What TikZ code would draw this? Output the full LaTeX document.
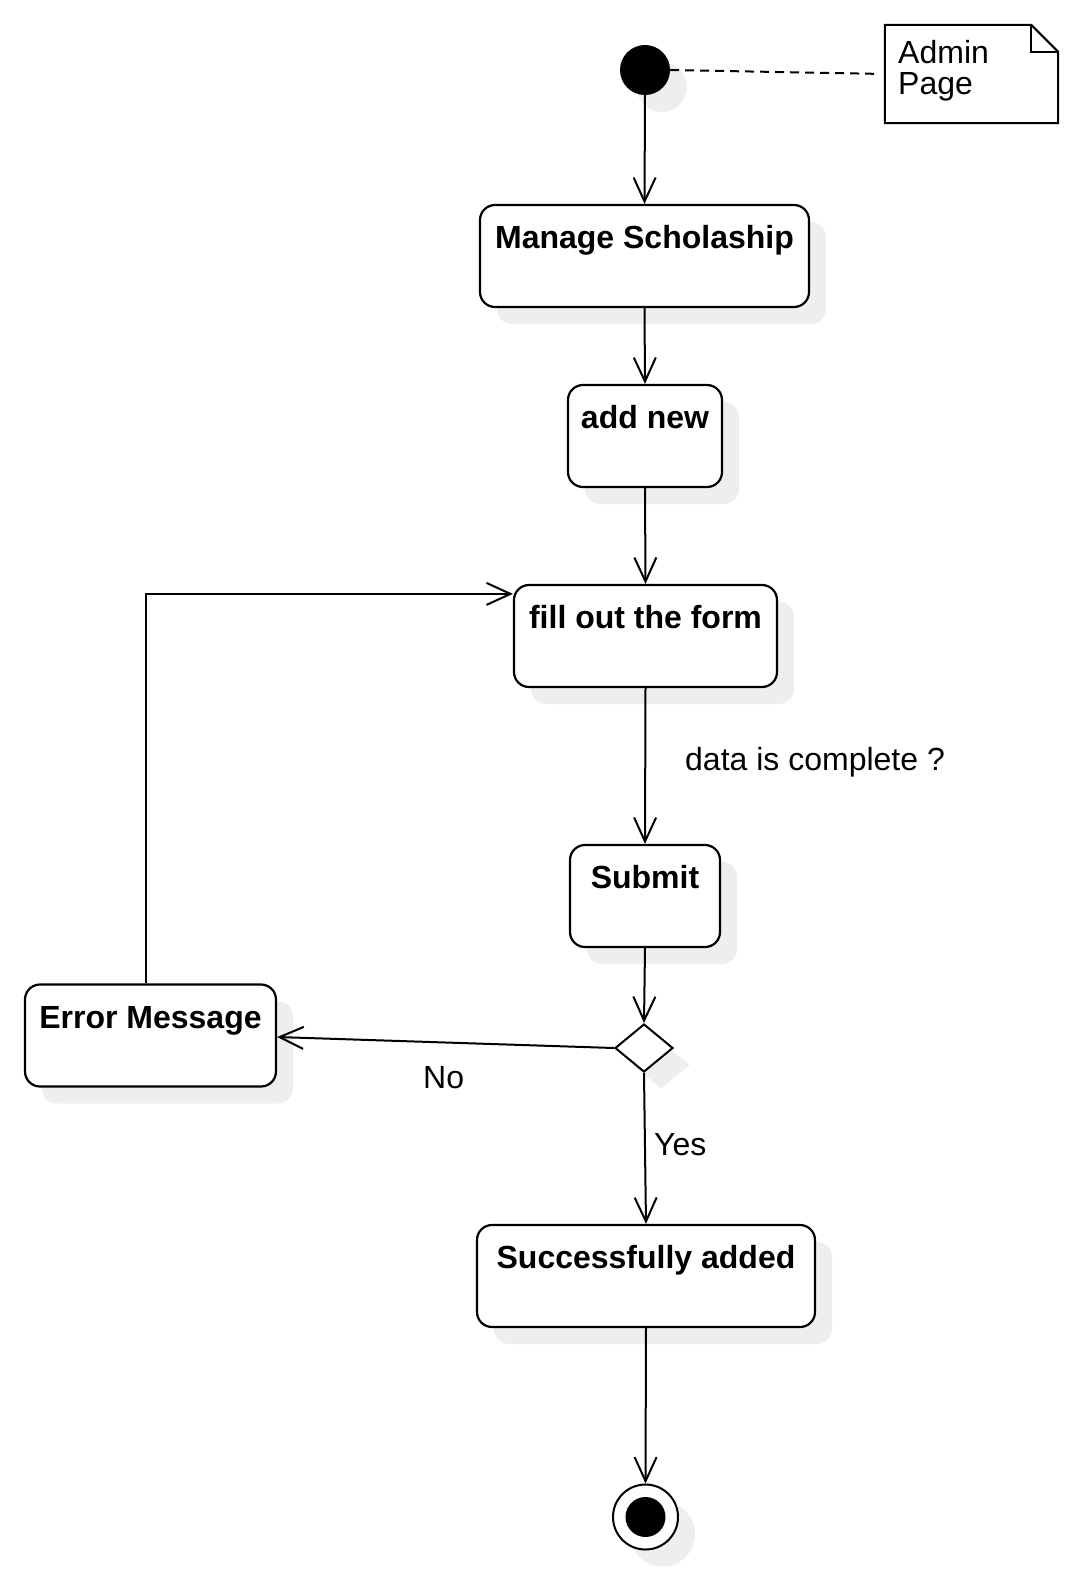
\documentclass[tikz,border=0pt]{standalone}
\usepackage{fontspec}
\setmainfont{Liberation Sans}
\usetikzlibrary{arrows.meta,shapes.geometric,calc}
\definecolor{shd}{HTML}{EEEEEE}
\begin{document}
\begin{tikzpicture}[x=1pt,y=-1pt,
  shadowed/.style={preaction={fill=shd, transform canvas={shift={(17pt,-17pt)}}}},
  act/.style={draw, line width=2.2pt, rounded corners=15pt, fill=white, shadowed, inner sep=0pt, minimum height=102pt},
  lbl/.style={font=\fontsize{32}{32}\selectfont\bfseries, anchor=base, inner sep=0pt},
  txt/.style={font=\fontsize{32}{32}\selectfont, inner sep=0pt},
  edge/.style={line width=2pt, -{Straight Barb[length=24pt,width=22pt,line width=2pt]}},
]
\useasboundingbox (0,0) rectangle (1085,1575);

% initial node
\node[circle, fill=black, minimum size=50pt, inner sep=0pt, shadowed] (init) at (645,70) {};
% note
\node[minimum width=173pt, minimum height=98pt, inner sep=0pt] (note) at (971.5,74) {};
\draw[line width=2pt, fill=white] (note.north west) -- ($(note.north east)+(-27,0)$) -- ($(note.north east)+(0,27)$) -- (note.south east) -- (note.south west) -- cycle;
\draw[line width=2pt] ($(note.north east)+(-27,0)$) -- ($(note.north east)+(-27,27)$) -- ($(note.north east)+(0,27)$);
\node[txt, anchor=base west] (n1) at (898,63) {Admin};
\node[txt, anchor=base west] (n2) at (898,94) {Page};
\draw[line width=2pt, dash pattern=on 9pt off 6pt, shorten >=10pt] (init.east) -- (note.west);

% activities
\node[act, minimum width=329pt] (ms) at (644.5,256) {};
\node[lbl] (msl) at ($(ms.north)+(0,45)$) {Manage Scholaship};
\node[act, minimum width=154pt] (an) at (645,436) {};
\node[lbl] (anl) at ($(an.north)+(0,45)$) {add new};
\node[act, minimum width=263pt] (fo) at (645.5,636) {};
\node[lbl] (fol) at ($(fo.north)+(0,45)$) {fill out the form};
\node[act, minimum width=150pt] (sb) at (645,896) {};
\node[lbl] (sbl) at ($(sb.north)+(0,45)$) {Submit};
\node[act, minimum width=251pt] (err) at (150.5,1035.5) {};
\node[lbl] (errl) at ($(err.north)+(0,45)$) {Error Message};
\node[act, minimum width=338pt] (ok) at (646,1276) {};
\node[lbl] (okl) at ($(ok.north)+(0,45)$) {Successfully added};

% decision
\node[diamond, draw, line width=2pt, fill=white, shadowed, minimum width=58pt, minimum height=48pt, inner sep=0pt] (dec) at (644,1048) {};

% final
\node[circle, draw, line width=2pt, fill=white, shadowed, minimum size=65pt, inner sep=0pt] (fin) at (645.5,1517) {};
\node[circle, fill=black, minimum size=40pt, inner sep=0pt] (finin) at (fin.center) {};

% edges
\draw[edge] (init.south) -- (ms.north);
\draw[edge] (ms.south) -- (an.north);
\draw[edge] (an.south) -- (fo.north);
\draw[edge] (fo.south) -- (sb.north);
\node[txt, anchor=base west] (lq) at (685,770) {data is complete ?};
\draw[edge] (sb.south) -- (dec.north);
\draw[edge] (dec.west) -- ($(err.east)+(0,1.5)$);
\node[txt, anchor=base west] (lno) at (423,1088) {No};
\draw[edge] (dec.south) -- (ok.north);
\node[txt, anchor=base west] (lyes) at (654,1155) {Yes};
\draw[edge] ($(err.north)+(-5,0)$) |- ($(fo.north west)+(0,10)$);
\draw[edge] (ok.south) -- (fin.north);
\end{tikzpicture}
\end{document}
